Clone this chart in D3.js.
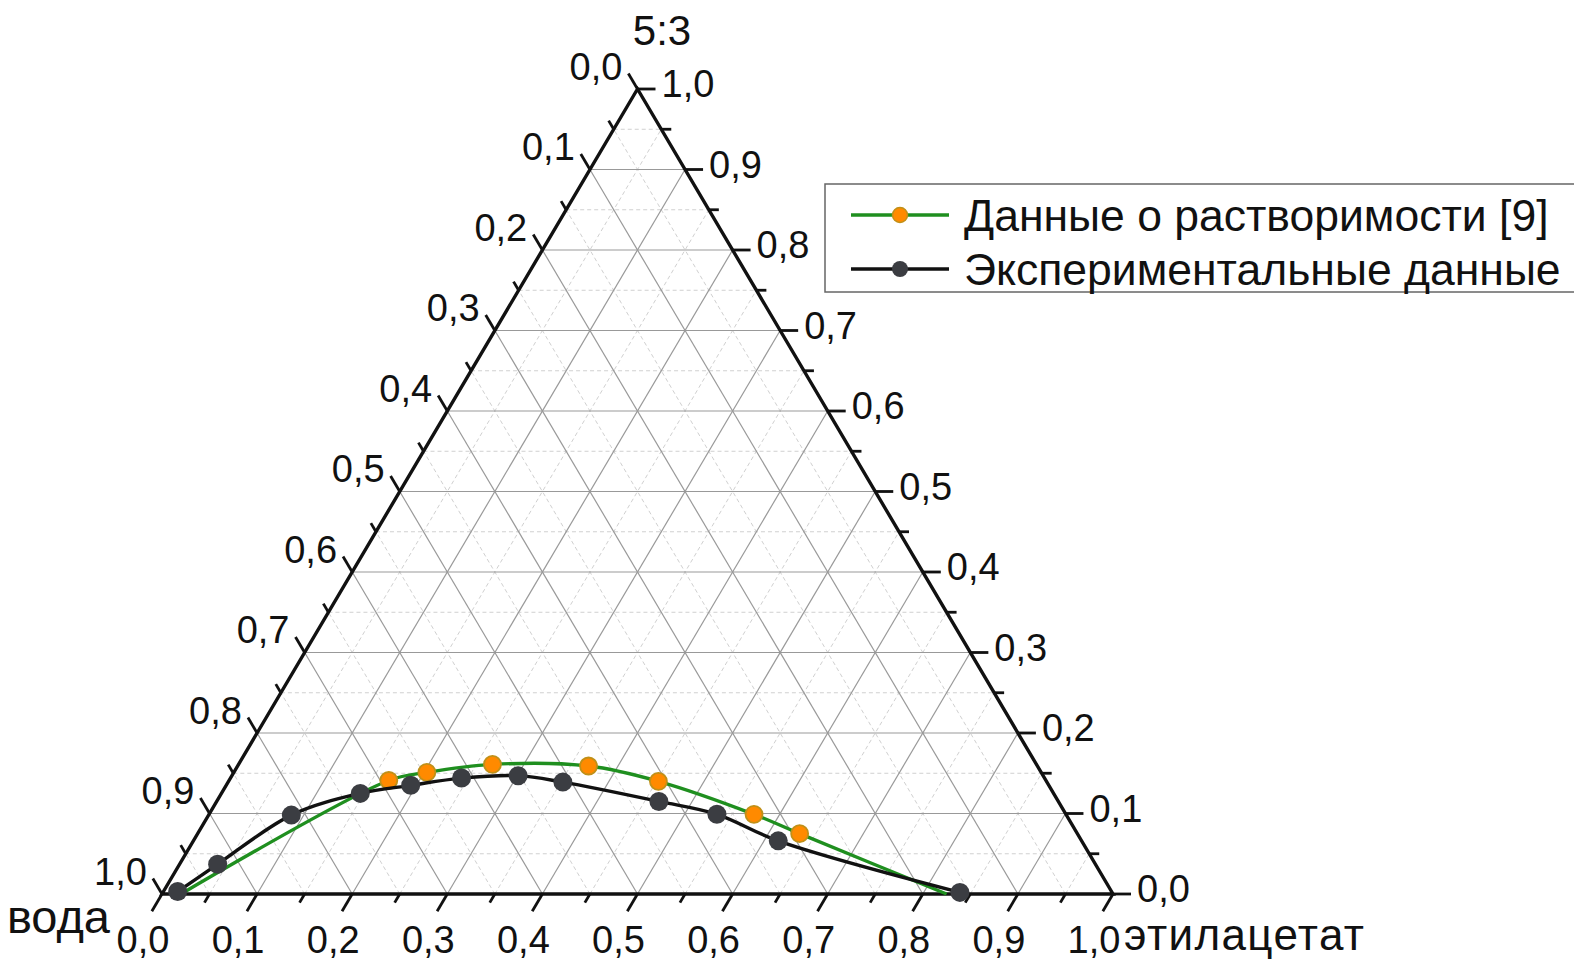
<!DOCTYPE html>
<html>
<head>
<meta charset="utf-8">
<script src="https://cdn.jsdelivr.net/npm/d3@7/dist/d3.min.js"></script>
<style>
html,body{margin:0;padding:0;background:#fff;}
svg{display:block;}
text{font-family:"Liberation Sans", Arial, sans-serif;fill:#111;}
</style>
</head>
<body>
<svg id="chart" width="1574" height="960"></svg>
<script>
// ---- data (fractions: ethyl acetate, "5:3"; water = 1 - both) ----
const expEthylAcetate = [0.015, 0.040, 0.087, 0.146, 0.194, 0.243, 0.301, 0.352, 0.465, 0.534, 0.615, 0.838];
const exp53           = [0.003, 0.037, 0.098, 0.125, 0.135, 0.144, 0.147, 0.139, 0.115, 0.099, 0.066, 0.002];
const solEthylAcetate = [0.020, 0.168, 0.203, 0.267, 0.369, 0.452, 0.573, 0.633, 0.825];
const sol53           = [0.000, 0.141, 0.151, 0.161, 0.159, 0.140, 0.099, 0.075, 0.000];
const solMarked       = [false, true, true, true, true, true, true, true, false];
const tickValues = [0, 0.1, 0.2, 0.3, 0.4, 0.5, 0.6, 0.7, 0.8, 0.9, 1.0];
const minorValues = [0.05, 0.15, 0.25, 0.35, 0.45, 0.55, 0.65, 0.75, 0.85, 0.95];
const seriesNames = ["Данные о растворимости [9]", "Экспериментальные данные"];
const vertexLabels = {left: "вода", right: "этилацетат", top: "5:3"};

const svg = d3.select("#chart");
const xs = d3.scaleLinear().domain([0, 1]).range([162, 1113]);
const ys = d3.scaleLinear().domain([0, 1]).range([894, 89]);
const P = (a, b) => [xs(a + b / 2), ys(b)];
const fmt = v => d3.format(".1f")(v).replace(".", ",");

const Lp = P(0, 0), Rp = P(1, 0), Tp = P(0, 1);
function unit(p, q) { const dx = q[0] - p[0], dy = q[1] - p[1], n = Math.hypot(dx, dy); return [dx / n, dy / n]; }
const dirBottom = unit(Tp, Lp);
const dirLeft = unit(Rp, Tp);
const dirRight = [1, 0];

const gGrid = svg.append("g");
function gridLines(vals) {
  const lines = [];
  vals.forEach(v => {
    lines.push([P(0, v), P(1 - v, v)]);
    lines.push([P(v, 0), P(v, 1 - v)]);
    lines.push([P(1 - v, 0), P(0, 1 - v)]);
  });
  return lines;
}
gGrid.selectAll("line.minor").data(gridLines(minorValues)).join("line")
  .attr("class", "minor")
  .attr("x1", d => d[0][0]).attr("y1", d => d[0][1])
  .attr("x2", d => d[1][0]).attr("y2", d => d[1][1])
  .attr("stroke", "#d0d0d0").attr("stroke-width", 1).attr("stroke-dasharray", "4,3");
gGrid.selectAll("line.major").data(gridLines(tickValues.slice(1, -1))).join("line")
  .attr("class", "major")
  .attr("x1", d => d[0][0]).attr("y1", d => d[0][1])
  .attr("x2", d => d[1][0]).attr("y2", d => d[1][1])
  .attr("stroke", "#999").attr("stroke-width", 1.2);

const gAx = svg.append("g");
function ticks(vals, posFn, dir, len) {
  gAx.selectAll(null).data(vals).join("line")
    .attr("x1", v => posFn(v)[0]).attr("y1", v => posFn(v)[1])
    .attr("x2", v => posFn(v)[0] + dir[0] * len).attr("y2", v => posFn(v)[1] + dir[1] * len)
    .attr("stroke", "#111").attr("stroke-width", 2.8);
}
const posBottom = v => P(v, 0);
const posRight = v => P(1 - v, v);
const posLeft = v => P(0, 1 - v);
ticks(tickValues, posBottom, dirBottom, 20);
ticks(minorValues, posBottom, dirBottom, 10);
ticks(tickValues, posRight, dirRight, 18);
ticks(minorValues, posRight, dirRight, 10);
ticks(tickValues, posLeft, dirLeft, 18);
ticks(minorValues, posLeft, dirLeft, 10);

svg.append("path")
  .attr("d", d3.line()([Lp, Rp, Tp, Lp]) + "Z")
  .attr("fill", "none").attr("stroke", "#111").attr("stroke-width", 3.4).attr("stroke-linejoin", "miter");

const fs = 38;
svg.append("g").selectAll("text").data(tickValues).join("text")
  .attr("x", v => posBottom(v)[0] - 19).attr("y", 953)
  .attr("text-anchor", "middle").attr("font-size", fs).text(fmt);
svg.append("g").selectAll("text").data(tickValues).join("text")
  .attr("x", v => posRight(v)[0] + 24).attr("y", v => posRight(v)[1] + 8)
  .attr("text-anchor", "start").attr("font-size", fs).text(fmt);
svg.append("g").selectAll("text").data(tickValues).join("text")
  .attr("x", v => posLeft(v)[0] + dirLeft[0] * 18 - 6).attr("y", v => posLeft(v)[1] + dirLeft[1] * 18 + 6)
  .attr("text-anchor", "end").attr("font-size", fs).text(fmt);

svg.append("text").attr("x", 110).attr("y", 933).attr("text-anchor", "end").attr("font-size", 47).text(vertexLabels.left);
svg.append("text").attr("x", 1124).attr("y", 950).attr("text-anchor", "start").attr("font-size", 44).attr("textLength", 240).text(vertexLabels.right);
svg.append("text").attr("x", 662).attr("y", 45).attr("text-anchor", "middle").attr("font-size", 42).text(vertexLabels.top);

const curve = d3.line().curve(d3.curveCatmullRom.alpha(0.5));
const solPts = solEthylAcetate.map((a, i) => P(a, sol53[i]));
const expPts = expEthylAcetate.map((a, i) => P(a, exp53[i]));
const green = "#1f8f1f", orange = "#ff8a00", orangeStroke = "#c09018", dark = "#3b3d42";

svg.append("path").attr("d", curve(solPts)).attr("fill", "none").attr("stroke", green).attr("stroke-width", 3.4);
svg.append("g").selectAll("circle").data(solPts.filter((p, i) => solMarked[i])).join("circle")
  .attr("cx", d => d[0]).attr("cy", d => d[1]).attr("r", 8.5)
  .attr("fill", orange).attr("stroke", orangeStroke).attr("stroke-width", 1.8);
svg.append("path").attr("d", curve(expPts)).attr("fill", "none").attr("stroke", "#111").attr("stroke-width", 3.4);
svg.append("g").selectAll("circle").data(expPts).join("circle")
  .attr("cx", d => d[0]).attr("cy", d => d[1]).attr("r", 9.5)
  .attr("fill", dark);

const lg = svg.append("g");
lg.append("rect").attr("x", 825).attr("y", 184).attr("width", 800).attr("height", 108)
  .attr("fill", "#fff").attr("stroke", "#666").attr("stroke-width", 1.5);
const legendItems = [
  {name: seriesNames[0], line: green, fill: orange, stroke: orangeStroke, r: 7.5, y: 215},
  {name: seriesNames[1], line: "#111", fill: dark, stroke: "none", r: 8, y: 269}
];
legendItems.forEach(it => {
  lg.append("line").attr("x1", 851).attr("x2", 949).attr("y1", it.y).attr("y2", it.y)
    .attr("stroke", it.line).attr("stroke-width", 3.4);
  lg.append("circle").attr("cx", 900).attr("cy", it.y).attr("r", it.r)
    .attr("fill", it.fill).attr("stroke", it.stroke).attr("stroke-width", 1.5);
  lg.append("text").attr("x", 964).attr("y", it.y + 16).attr("font-size", 44.5).text(it.name);
});
</script>
</body>
</html>
